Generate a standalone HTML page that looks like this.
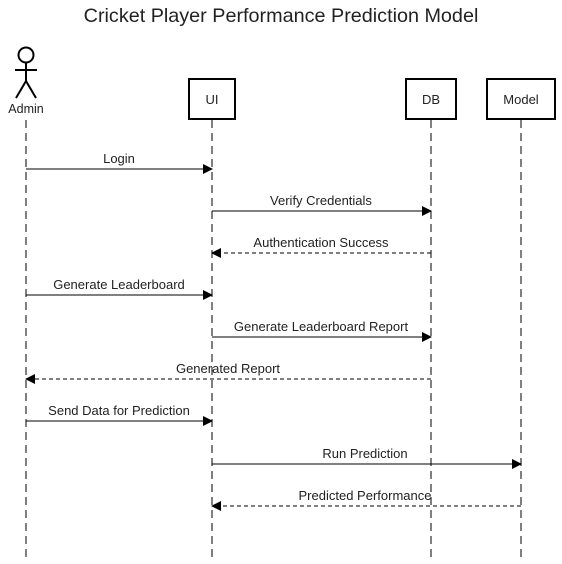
<!DOCTYPE html>
<html><head><style>body{margin:0;background:#fff}</style></head><body>
<svg width="562" height="559" xmlns="http://www.w3.org/2000/svg" font-family="Liberation Sans, sans-serif">
<defs>
<marker id="a" markerWidth="10" markerHeight="10" refX="9" refY="5" orient="auto" markerUnits="userSpaceOnUse"><path d="M0,0 L10,5 L0,10 z" fill="#000"/></marker>
</defs>
<text x="281" y="22" font-size="19.8" text-anchor="middle" fill="#222">Cricket Player Performance Prediction Model</text>
<g stroke="#000" stroke-width="2" fill="none">
<circle cx="26" cy="55" r="7.5"/>
<line x1="26" y1="62" x2="26" y2="81"/><line x1="15" y1="70" x2="37" y2="70"/>
<line x1="26" y1="81" x2="16" y2="98"/><line x1="26" y1="81" x2="36" y2="98"/>
</g>
<text x="26" y="113" font-size="12.5" text-anchor="middle" fill="#222">Admin</text>
<g stroke="#000" stroke-width="2" fill="#fff">
<rect x="189" y="79" width="46" height="40"/>
<rect x="406" y="79" width="50" height="40"/>
<rect x="487" y="79" width="68" height="40"/>
</g>
<g font-size="13" text-anchor="middle" fill="#222">
<text x="212" y="104">UI</text><text x="431" y="104">DB</text><text x="521" y="104">Model</text>
</g>
<g stroke="#000" stroke-width="1" stroke-dasharray="8,5">
<line x1="26" y1="120" x2="26" y2="559"/>
<line x1="212" y1="120" x2="212" y2="559"/>
<line x1="431" y1="120" x2="431" y2="559"/>
<line x1="521" y1="120" x2="521" y2="559"/>
</g>
<g stroke="#000" stroke-width="1" marker-end="url(#a)">
<line x1="26" y1="169" x2="212" y2="169"/>
<line x1="212" y1="211" x2="431" y2="211"/>
<line x1="431" y1="253" x2="212" y2="253" stroke-dasharray="4,3"/>
<line x1="26" y1="295" x2="212" y2="295"/>
<line x1="212" y1="337" x2="431" y2="337"/>
<line x1="431" y1="379" x2="26" y2="379" stroke-dasharray="4,3"/>
<line x1="26" y1="421" x2="212" y2="421"/>
<line x1="212" y1="464" x2="521" y2="464"/>
<line x1="521" y1="506" x2="212" y2="506" stroke-dasharray="4,3"/>
</g>
<g font-size="13" text-anchor="middle" fill="#222">
<text x="119" y="163">Login</text>
<text x="321" y="205">Verify Credentials</text>
<text x="321" y="247">Authentication Success</text>
<text x="119" y="289">Generate Leaderboard</text>
<text x="321" y="331">Generate Leaderboard Report</text>
<text x="228" y="373">Generated Report</text>
<text x="119" y="415">Send Data for Prediction</text>
<text x="365" y="458">Run Prediction</text>
<text x="365" y="500">Predicted Performance</text>
</g>
</svg>
</body></html>
